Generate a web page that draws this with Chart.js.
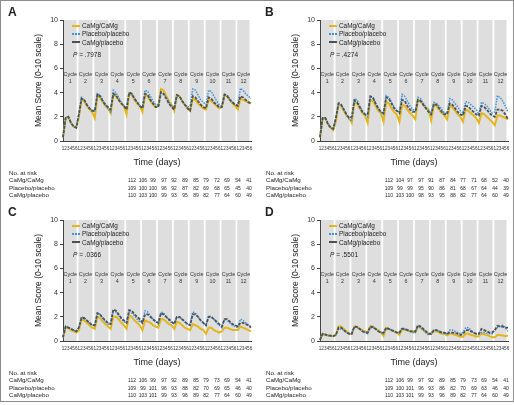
<!DOCTYPE html>
<html>
<head>
<meta charset="utf-8">
<script src="https://cdn.jsdelivr.net/npm/chart.js@4.4.1/dist/chart.umd.min.js"></script>
<style>
  body { margin: 0; background: #fff; font-family: "Liberation Sans", Arial, sans-serif; color: #222; }
  #fig { position: relative; width: 514px; height: 402px; border: 1px solid #8c8c8c; box-sizing: border-box; overflow: hidden; }
  .panel { position: absolute; width: 257px; height: 200px; }
  .panel canvas { position: absolute; left: 0; top: 0; }
  .letter { position: absolute; left: 7px; top: 4px; font-weight: bold; font-size: 12px; }
  .legend { position: absolute; left: 71px; top: 21px; font-size: 6.4px; line-height: 8.3px; }
  .legend div { white-space: nowrap; }
  .sw { display: inline-block; width: 8px; height: 0; vertical-align: middle; margin-right: 2px; margin-top: -1px; }
  .pval { position: absolute; left: 72px; top: 50px; font-size: 6.5px; }
  .risk { position: absolute; font-size: 6.2px; white-space: nowrap; }
  .num { position: absolute; font-size: 6.2px; transform: translateX(-50%) scaleX(0.8); white-space: nowrap; }
</style>
</head>
<body>
<div id="fig"></div>
<script>
var cycles = [1, 2, 3, 4, 5, 6, 7, 8, 9, 10, 11, 12];
var days = ['1', '2', '3', '4', '5', '6'];
var seriesNames = ['CaMg/CaMg', 'Placebo/placebo', 'CaMg/placebo'];
var yTicks = [0, 2, 4, 6, 8, 10];

// panel A
var aCaMg = [
  0.3,1.9,2.0,1.5,1.2,1.1, 2.0,3.4,3.3,2.9,2.6,2.4, 1.9,3.7,3.6,3.2,2.9,2.7,
  2.3,3.8,3.7,3.4,3.1,2.9, 2.2,3.9,3.8,3.4,3.1,2.9, 2.4,3.8,3.7,3.3,3.0,2.8,
  2.9,4.3,4.2,3.7,3.3,3.0, 2.5,3.8,3.7,3.3,3.0,2.7, 2.5,3.5,3.4,3.1,2.9,2.7,
  2.6,3.4,3.3,3.1,2.9,2.7, 2.8,3.8,3.7,3.4,3.1,2.9, 2.6,3.5,3.4,3.3,3.2,3.1
];
var aPlacebo = [
  0.4,1.9,2.0,1.5,1.2,1.1, 2.3,3.6,3.4,3.0,2.7,2.5, 2.4,3.9,3.8,3.4,3.0,2.7,
  2.4,4.2,4.0,3.6,3.2,2.9, 2.7,4.05,3.9,3.5,3.2,2.9, 2.8,4.2,4.1,3.7,3.3,3.0,
  3.0,4.0,3.9,3.6,3.2,2.9, 2.8,3.7,3.7,3.3,3.0,2.8, 2.9,4.3,4.2,3.8,3.4,3.2,
  3.0,4.2,4.1,3.7,3.3,3.0, 2.9,3.85,3.8,3.5,3.2,3.0, 3.0,4.35,4.2,3.9,3.7,3.5
];
var aCaMgPlacebo = [
  0.3,1.9,2.0,1.5,1.2,1.1, 2.2,3.5,3.4,3.0,2.7,2.5, 2.5,3.85,3.7,3.3,3.0,2.8,
  2.6,3.9,3.8,3.4,3.1,2.9, 2.6,4.0,3.9,3.5,3.2,2.9, 2.7,3.9,3.8,3.4,3.1,2.8,
  2.8,4.05,3.9,3.5,3.1,2.8, 2.6,3.8,3.7,3.3,3.0,2.7, 2.5,3.7,3.6,3.3,3.0,2.8,
  2.7,3.6,3.5,3.2,3.0,2.8, 2.8,3.85,3.7,3.4,3.2,3.0, 2.9,3.7,3.6,3.4,3.2,3.1
];

// panel B
var bCaMg = [
  0.3,1.8,1.9,1.4,1.1,0.9, 1.6,3.0,2.9,2.5,2.1,1.9, 1.5,3.2,3.1,2.7,2.3,2.1,
  1.5,3.4,3.3,2.9,2.5,2.3, 1.6,3.2,3.1,2.7,2.4,2.2, 1.6,3.0,2.9,2.6,2.3,2.1,
  1.8,3.4,3.3,3.0,2.7,2.6, 1.7,3.0,2.9,2.6,2.3,2.1, 1.8,2.9,2.8,2.5,2.2,2.0,
  1.6,2.6,2.5,2.3,2.1,1.9, 1.5,2.3,2.2,2.0,1.8,1.6, 1.3,2.1,2.1,2.0,1.9,1.8
];
var bPlacebo = [
  0.4,1.9,1.9,1.5,1.1,1.0, 1.9,3.2,3.0,2.6,2.2,1.8, 1.7,3.5,3.4,2.9,2.5,2.2,
  2.0,3.7,3.6,3.1,2.7,2.4, 2.2,3.75,3.6,3.2,2.8,2.5, 2.4,3.85,3.7,3.3,2.9,2.6,
  2.5,3.6,3.5,3.1,2.8,2.5, 2.3,3.2,3.1,2.9,2.6,2.3, 2.3,3.5,3.4,3.1,2.8,2.5,
  2.3,3.25,3.2,3.0,2.8,2.6, 2.2,3.2,3.1,2.9,2.6,2.3, 2.4,3.75,3.6,3.3,2.9,2.4
];
var bCaMgPlacebo = [
  0.3,1.9,1.9,1.4,1.1,1.0, 1.9,3.1,3.0,2.6,2.2,1.9, 2.0,3.35,3.2,2.8,2.4,2.2,
  2.2,3.7,3.6,3.1,2.7,2.4, 2.3,3.6,3.5,3.1,2.7,2.5, 2.3,3.4,3.3,2.9,2.6,2.4,
  2.4,3.4,3.3,3.0,2.7,2.4, 2.2,3.05,3.0,2.7,2.4,2.2, 2.2,3.1,3.0,2.7,2.4,2.2,
  2.1,2.9,2.85,2.6,2.4,2.2, 2.1,2.9,2.8,2.6,2.3,2.1, 2.0,2.6,2.6,2.5,2.2,1.8
];

// panel C
var cCaMg = [
  0.3,1.1,1.1,0.9,0.8,0.7, 0.9,1.8,1.7,1.5,1.3,1.1, 1.0,2.0,1.9,1.6,1.4,1.2,
  1.0,2.0,2.0,1.8,1.5,1.3, 1.0,2.1,2.0,1.7,1.5,1.3, 0.9,1.7,1.6,1.5,1.3,1.2,
  1.1,1.8,1.8,1.6,1.4,1.3, 1.0,1.6,1.5,1.3,1.1,1.0, 0.9,1.4,1.3,1.2,1.0,0.9,
  0.6,1.1,1.1,0.9,0.8,0.7, 0.8,1.1,1.1,1.0,0.9,0.9, 0.9,1.2,1.1,1.0,0.9,0.8
];
var cPlacebo = [
  0.4,1.2,1.15,1.0,0.9,0.8, 1.2,2.0,1.9,1.7,1.5,1.3, 1.3,2.3,2.2,1.9,1.6,1.4,
  1.4,2.5,2.4,2.1,1.8,1.6, 1.5,2.4,2.3,2.1,1.8,1.6, 1.5,2.5,2.4,2.1,1.8,1.6,
  1.4,2.4,2.3,2.0,1.7,1.5, 1.4,2.0,1.9,1.8,1.6,1.4, 1.4,2.4,2.3,2.0,1.7,1.5,
  1.3,2.1,2.0,1.8,1.5,1.3, 1.1,1.8,1.7,1.5,1.3,1.2, 1.1,1.8,1.7,1.5,1.3,1.2
];
var cCaMgPlacebo = [
  0.3,1.2,1.1,1.0,0.9,0.8, 1.1,1.9,1.9,1.7,1.5,1.3, 1.3,2.3,2.2,1.9,1.7,1.5,
  1.4,2.6,2.5,2.2,1.9,1.7, 1.5,2.55,2.5,2.2,2.0,1.8, 1.5,2.2,2.2,2.0,1.8,1.6,
  1.5,2.3,2.2,2.0,1.8,1.6, 1.4,2.0,2.0,1.8,1.6,1.4, 1.3,2.2,2.2,2.0,1.7,1.5,
  1.3,2.0,2.0,1.8,1.6,1.4, 1.2,1.8,1.8,1.6,1.4,1.3, 1.2,1.5,1.5,1.4,1.3,1.1
];

// panel D
var dCaMg = [
  0.1,0.6,0.5,0.45,0.45,0.4, 0.5,1.2,1.2,1.0,0.8,0.6, 0.6,1.2,1.2,1.0,0.9,0.8,
  0.7,1.2,1.2,1.0,0.9,0.7, 0.4,1.1,1.0,0.9,0.8,0.7, 0.5,1.0,0.9,0.9,0.8,0.8,
  0.7,1.2,1.1,0.9,0.7,0.6, 0.6,0.8,0.8,0.7,0.6,0.6, 0.45,0.6,0.6,0.5,0.45,0.35,
  0.35,0.6,0.6,0.5,0.45,0.35, 0.4,0.6,0.55,0.5,0.4,0.3, 0.3,0.5,0.5,0.45,0.4,0.45
];
var dPlacebo = [
  0.15,0.55,0.5,0.45,0.4,0.4, 0.5,1.0,1.0,0.9,0.7,0.6, 0.6,1.2,1.1,1.0,0.8,0.7,
  0.6,1.1,1.1,1.0,0.8,0.7, 0.6,1.0,1.0,0.9,0.8,0.7, 0.7,1.1,1.0,0.9,0.8,0.7,
  0.7,1.2,1.1,0.9,0.7,0.5, 0.6,0.9,0.9,0.8,0.7,0.6, 0.6,0.9,0.9,0.8,0.7,0.6,
  0.7,1.1,1.1,0.9,0.7,0.6, 0.6,0.7,0.7,0.65,0.6,0.6, 0.9,1.1,1.2,1.3,1.1,0.8
];
var dCaMgPlacebo = [
  0.1,0.6,0.55,0.45,0.45,0.4, 0.5,1.1,1.1,0.9,0.7,0.6, 0.6,1.2,1.15,1.0,0.8,0.7,
  0.7,1.2,1.15,1.0,0.8,0.7, 0.7,1.1,1.0,0.9,0.8,0.7, 0.7,1.0,1.0,0.9,0.8,0.8,
  0.8,1.3,1.2,1.0,0.8,0.6, 0.6,0.9,0.9,0.8,0.7,0.7, 0.6,0.7,0.7,0.65,0.6,0.5,
  0.6,0.9,0.9,0.8,0.7,0.6, 0.6,1.0,0.9,0.8,0.7,0.7, 0.9,1.25,1.2,1.2,1.1,1.1
];

// numbers at risk, rows in legend order
var riskA = [
  [112, 106, 99, 97, 92, 89, 85, 79, 72, 69, 54, 41],
  [109, 100, 100, 96, 92, 87, 82, 69, 68, 65, 45, 40],
  [110, 103, 100, 99, 93, 95, 89, 82, 77, 64, 60, 49]
];
var riskB = [
  [112, 104, 97, 97, 91, 87, 84, 77, 71, 68, 52, 40],
  [109, 99, 99, 95, 90, 86, 81, 68, 67, 64, 44, 39],
  [110, 103, 100, 98, 93, 95, 88, 82, 77, 64, 60, 49]
];
var riskC = [
  [112, 106, 99, 97, 92, 89, 85, 79, 73, 69, 54, 41],
  [109, 99, 101, 96, 93, 88, 82, 70, 69, 65, 46, 40],
  [110, 103, 101, 99, 93, 96, 89, 82, 77, 64, 60, 49]
];
var riskD = [
  [112, 106, 99, 97, 92, 89, 85, 79, 73, 69, 54, 41],
  [109, 100, 101, 96, 93, 86, 82, 70, 69, 63, 46, 40],
  [110, 103, 101, 99, 93, 96, 89, 82, 77, 64, 60, 49]
];

var panels = [
  { letter: 'A', p: '.7978', left: 0, top: 0, data: [aCaMg, aPlacebo, aCaMgPlacebo], risk: riskA },
  { letter: 'B', p: '.4274', left: 257, top: 0, data: [bCaMg, bPlacebo, bCaMgPlacebo], risk: riskB },
  { letter: 'C', p: '.0366', left: 0, top: 200, data: [cCaMg, cPlacebo, cCaMgPlacebo], risk: riskC },
  { letter: 'D', p: '.5501', left: 257, top: 200, data: [dCaMg, dPlacebo, dCaMgPlacebo], risk: riskD }
];

var colors = ['#e3b51e', '#3f93db', '#4b5157'];
var widths = [2, 1.5, 1.8];
var dashes = [[], [1.5, 1.2], [3, 1.3]];
var swatchCss = ['border-top:2px solid #e3b51e', 'border-top:2px dotted #3f93db', 'border-top:2px dashed #4b5157'];

var labels = [];
cycles.forEach(function () {
  days.forEach(function (d) { labels.push(d); });
});

// gray cycle bands with their captions
var cyclePlugin = {
  id: 'cycleBands',
  beforeDraw: function (chart) {
    var ctx = chart.ctx, a = chart.chartArea, x = chart.scales.x;
    var n = days.length;
    ctx.save();
    for (var c = 0; c < cycles.length; c++) {
      var first = c * n, last = c * n + n - 1;
      var x0 = c === 0 ? a.left + 1 : (x.getPixelForValue(first - 1) + x.getPixelForValue(first)) / 2 + 0.9;
      var x1 = c === cycles.length - 1 ? a.right - 1.5 : (x.getPixelForValue(last) + x.getPixelForValue(last + 1)) / 2 - 0.9;
      ctx.fillStyle = '#dedede';
      ctx.fillRect(x0, a.top, x1 - x0, a.bottom - a.top);
      ctx.fillStyle = '#333';
      ctx.font = '5.4px "Liberation Sans", Arial, sans-serif';
      ctx.textAlign = 'center';
      ctx.textBaseline = 'middle';
      var cx = (x0 + x1) / 2;
      ctx.fillText('Cycle', cx, a.top + 55);
      ctx.fillText(String(cycles[c]), cx, a.top + 62);
    }
    ctx.restore();
  }
};

var fig = document.getElementById('fig');
var colX = [];
for (var i = 0; i < 12; i++) colX.push(131 + i * 10.6);

panels.forEach(function (p) {
  var div = document.createElement('div');
  div.className = 'panel';
  div.style.left = p.left + 'px';
  div.style.top = p.top + 'px';
  fig.appendChild(div);

  var canvas = document.createElement('canvas');
  canvas.width = 257;
  canvas.height = 170;
  div.appendChild(canvas);

  var letter = document.createElement('div');
  letter.className = 'letter';
  letter.textContent = p.letter;
  div.appendChild(letter);

  var legend = document.createElement('div');
  legend.className = 'legend';
  legend.innerHTML = seriesNames.map(function (name, k) {
    return '<div><span class="sw" style="' + swatchCss[k] + '"></span>' + name + '</div>';
  }).join('');
  div.appendChild(legend);

  var pv = document.createElement('div');
  pv.className = 'pval';
  pv.innerHTML = '<i>P</i> = ' + p.p;
  div.appendChild(pv);

  var head = document.createElement('div');
  head.className = 'risk';
  head.style.left = '8px';
  head.style.top = '167.5px';
  head.textContent = 'No. at risk';
  div.appendChild(head);

  seriesNames.forEach(function (name, r) {
    var rowY = 175 + r * 7.5;
    var lab = document.createElement('div');
    lab.className = 'risk';
    lab.style.left = '8px';
    lab.style.top = rowY + 'px';
    lab.textContent = name;
    div.appendChild(lab);
    p.risk[r].forEach(function (v, k) {
      var s = document.createElement('div');
      s.className = 'num';
      s.style.left = colX[k] + 'px';
      s.style.top = rowY + 'px';
      s.textContent = v;
      div.appendChild(s);
    });
  });

  new Chart(canvas.getContext('2d'), {
    type: 'line',
    data: {
      labels: labels,
      datasets: seriesNames.map(function (name, k) {
        return {
          label: name,
          data: p.data[k],
          borderColor: colors[k],
          borderWidth: widths[k],
          borderDash: dashes[k],
          pointRadius: 0,
          tension: 0,
          fill: false,
          order: 2 - k
        };
      })
    },
    options: {
      responsive: false,
      animation: false,
      layout: { padding: { left: 29, top: 19, right: 7, bottom: 0 } },
      plugins: { legend: { display: false }, tooltip: { enabled: false } },
      scales: {
        x: {
          offset: false,
          grid: { display: false, drawTicks: false },
          border: { color: '#444', width: 1 },
          ticks: { autoSkip: false, maxRotation: 0, minRotation: 0, padding: 5, color: '#333',
                   font: { size: 4.6, family: '"Liberation Sans", Arial, sans-serif' } },
          title: { display: true, text: 'Time (days)', color: '#222', padding: { top: 0, bottom: 3 },
                   font: { size: 9, family: '"Liberation Sans", Arial, sans-serif' } },
          afterFit: function (s) { s.height = 30; }
        },
        y: {
          min: 0,
          max: 10,
          afterBuildTicks: function (s) { s.ticks = yTicks.map(function (v) { return { value: v }; }); },
          grid: { drawOnChartArea: false, tickLength: 3, color: '#444' },
          border: { color: '#444', width: 1 },
          ticks: { padding: 2, color: '#333', font: { size: 7, family: '"Liberation Sans", Arial, sans-serif' } },
          title: { display: true, text: 'Mean Score (0-10 scale)', color: '#222', padding: { top: 4, bottom: 0 },
                   font: { size: 8.5, family: '"Liberation Sans", Arial, sans-serif' } },
          afterFit: function (s) { s.width = 33; }
        }
      }
    },
    plugins: [cyclePlugin]
  });
});
</script>
</body>
</html>
